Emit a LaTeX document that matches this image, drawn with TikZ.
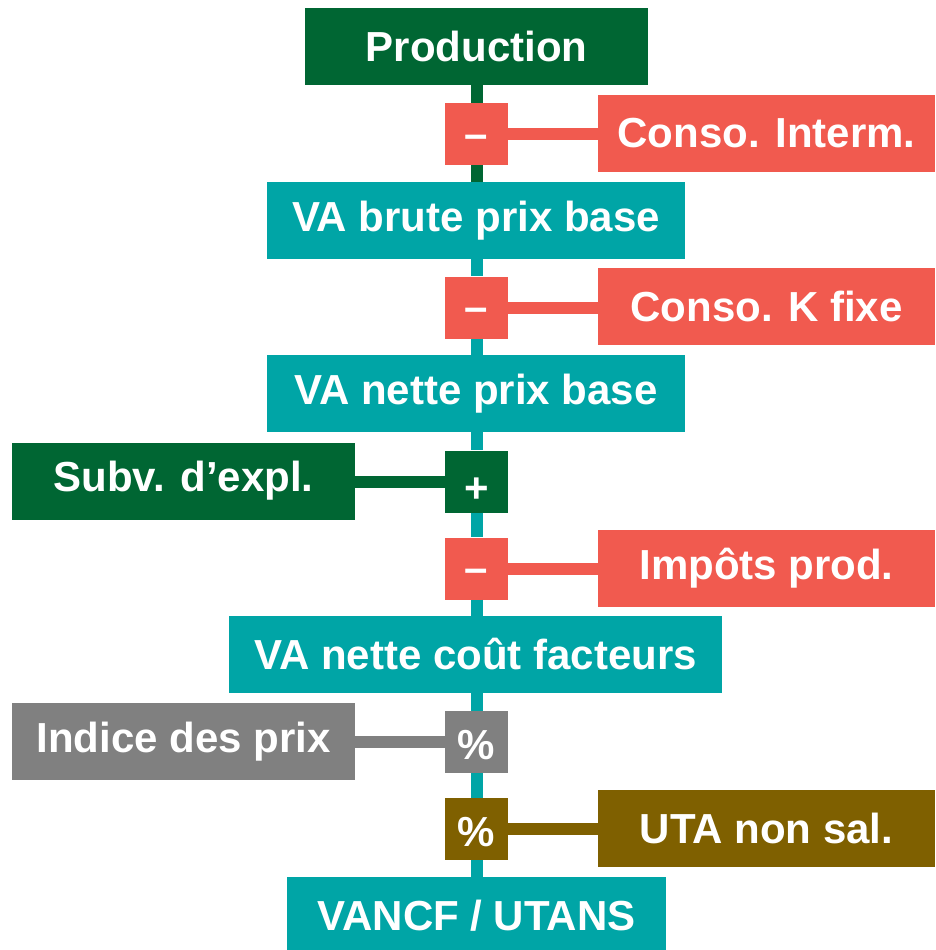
\documentclass[tikz,border=0pt]{standalone}
\usepackage{fontspec}
\setmainfont{Liberation Sans}
\definecolor{dgreen}{HTML}{006633}
\definecolor{cred}{HTML}{F15A4F}
\definecolor{teal}{HTML}{00A5A6}
\definecolor{cgrey}{HTML}{808080}
\definecolor{cbrown}{HTML}{7F6000}
\newcommand{\mydash}{\raisebox{-14pt}[0pt][0pt]{–}}
\newcommand{\myplus}{\raisebox{-20.5pt}[0pt][0pt]{+}}
\newcommand{\mypct}{\raisebox{-17.7pt}[0pt][0pt]{\%}}
\begin{document}
\begin{tikzpicture}[x=1pt,y=1pt,
  box/.style={inner sep=0pt, text=white, font=\fontsize{42}{46}\selectfont\bfseries, align=center},
  sidebox/.style={box, minimum width=337pt, minimum height=77pt},
  leftbox/.style={box, minimum width=343pt, minimum height=77pt},
  opbox/.style={box, minimum width=63pt, minimum height=62pt},
  vline/.style={line width=12pt},
]
\useasboundingbox (0,0) rectangle (935,-950);
\node[box, fill=dgreen, minimum width=343pt, minimum height=77pt] (prod) at (476.5,-46.5) {Production};
\node[opbox, fill=cred] (m1) at (476.5,-134) {\mydash};
\node[sidebox, fill=cred] (ci) at (766.5,-133.5) {Conso. Interm.};
\node[box, fill=teal, minimum width=418pt, minimum height=77pt] (vab) at (476,-220.5) {VA brute prix base};
\node[opbox, fill=cred] (m2) at (476.5,-307.5) {\mydash};
\node[sidebox, fill=cred] (ck) at (766.5,-306.5) {Conso. K fixe};
\node[box, fill=teal, minimum width=418pt, minimum height=77pt] (van) at (476,-393.5) {VA nette prix base};
\node[leftbox, fill=dgreen] (sub) at (183.5,-481) {Subv. d’expl.};
\node[opbox, fill=dgreen] (pl) at (476.5,-481.5) {\myplus};
\node[opbox, fill=cred] (m3) at (476.5,-568.5) {\mydash};
\node[sidebox, fill=cred] (imp) at (766.5,-568.5) {Impôts prod.};
\node[box, fill=teal, minimum width=493pt, minimum height=77pt] (vancf) at (475.5,-654.5) {VA nette coût facteurs};
\node[leftbox, fill=cgrey] (ind) at (183.5,-741.5) {Indice des prix};
\node[opbox, fill=cgrey] (p1) at (476.5,-742) {\mypct};
\node[opbox, fill=cbrown] (p2) at (476.5,-829) {\mypct};
\node[sidebox, fill=cbrown] (uta) at (766.5,-828.5) {UTA non sal.};
\node[box, fill=teal, minimum width=379pt, minimum height=77pt] (res) at (476.5,-915.5) {VANCF / UTANS};
% vertical connectors (all on the axis x = 476.5)
\draw[vline, dgreen] (prod.south) -- (m1.north);
\draw[vline, dgreen] (m1.south) -- (m1.south |- vab.north);
\draw[vline, teal] (m2.north |- vab.south) -- (m2.north);
\draw[vline, teal] (m2.south) -- (m2.south |- van.north);
\draw[vline, teal] (pl.north |- van.south) -- (pl.north);
\draw[vline, teal] (pl.south) -- (m3.north);
\draw[vline, teal] (m3.south) -- (m3.south |- vancf.north);
\draw[vline, teal] (p1.north |- vancf.south) -- (p1.north);
\draw[vline, teal] (p1.south) -- (p2.north);
\draw[vline, teal] (p2.south) -- (res.north);
% horizontal connectors
\draw[vline, cred] (m1.east) -- (m1.east -| ci.west);
\draw[vline, cred] (m2.east) -- (m2.east -| ck.west);
\draw[vline, dgreen] (pl.west) -- (pl.west -| sub.east);
\draw[vline, cred] (m3.east) -- (m3.east -| imp.west);
\draw[vline, cgrey] (p1.west) -- (p1.west -| ind.east);
\draw[vline, cbrown] (p2.east) -- (p2.east -| uta.west);
\end{tikzpicture}
\end{document}
